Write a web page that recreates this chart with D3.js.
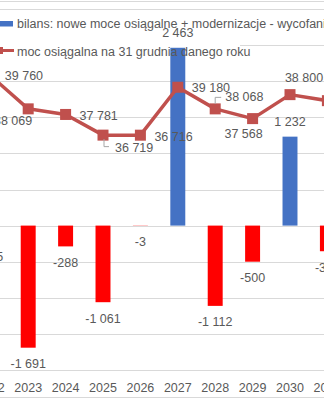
<!DOCTYPE html>
<html lang="pl">
<head>
<meta charset="utf-8">
<title>Bilans mocy</title>
<script src="https://d3js.org/d3.v7.min.js"></script>
<style>
  html, body { margin: 0; padding: 0; background: #fff; }
  svg { display: block; font-family: "Liberation Sans", Arial, sans-serif; }
</style>
</head>
<body>
<div id="chart"></div>
<script>
// data
const years = ["2022", "2023", "2024", "2025", "2026", "2027", "2028", "2029", "2030", "2031"];
const bilans = [-205, -1691, -288, -1061, -3, 2463, -1112, -500, 1232, -355];
const moc = [39760, 38069, 37781, 36719, 36716, 39180, 38068, 37568, 38800, 38490];
const legendLabels = [
  "bilans: nowe moce osiągalne + modernizacje - wycofania",
  "moc osiągalna na 31 grudnia danego roku"
];

// hand-placed line labels (like moved Excel labels): dx, dy, anchor
const lineLabelPlace = [
  [14, 0, "start"], [4, 12, "end"], [14, 1, "start"], [12, 12, "start"], [14, 1, "start"],
  [14, 0, "start"], [10, -12, "start"], [-9, 15, "middle"], [14, -17, "middle"], [14, 0, "start"]
];

const width = 324, height = 400;
const textColor = "#595959", gridColor = "#d9d9d9";
const blue = "#4472C4", red = "#FF0000", lineColor = "#C0504D";

const fmt = d3.formatLocale({decimal: ",", thousands: "\u00a0", grouping: [3], currency: ["", ""], minus: "-"}).format(",d");

const svg = d3.select("#chart").append("svg")
  .attr("width", width).attr("height", height);

const x = d3.scaleBand().domain(years)
  .range([-27.9, 346.1]).paddingInner(0.6).paddingOuter(0.3);
const yBar = d3.scaleLinear().domain([-2000, 3000]).range([370, 9]);
const yLine = d3.scaleLinear().domain([24650, 43200]).range([370, 9]);
const cx = d => x(d) + x.bandwidth() / 2;

// frame lines
svg.append("line").attr("x1", 0).attr("x2", width).attr("y1", 1.5).attr("y2", 1.5)
  .attr("stroke", gridColor);
svg.append("line").attr("x1", 0).attr("x2", width).attr("y1", 397.5).attr("y2", 397.5)
  .attr("stroke", gridColor);

// gridlines
svg.append("g").selectAll("line")
  .data(d3.range(-2000, 3001, 500))
  .join("line")
  .attr("x1", 0).attr("x2", width)
  .attr("y1", d => Math.round(yBar(d)) + 0.5).attr("y2", d => Math.round(yBar(d)) + 0.5)
  .attr("stroke", gridColor);

// legend background hides the gridline under it, bars still go over
svg.append("rect").attr("x", 0).attr("y", 12).attr("width", 240).attr("height", 50).attr("fill", "#fff");

// bars
svg.append("g").selectAll("rect")
  .data(bilans)
  .join("rect")
  .attr("x", (d, i) => x(years[i]))
  .attr("width", x.bandwidth())
  .attr("y", d => yBar(Math.max(0, d)))
  .attr("height", d => Math.abs(yBar(d) - yBar(0)))
  .attr("fill", d => d >= 0 ? blue : red);

// line + markers
const line = d3.line().x((d, i) => cx(years[i])).y(d => yLine(d));
svg.append("path").datum(moc)
  .attr("d", line).attr("fill", "none")
  .attr("stroke", lineColor).attr("stroke-width", 3.5).attr("stroke-linejoin", "round");
svg.append("g").selectAll("rect")
  .data(moc)
  .join("rect")
  .attr("x", (d, i) => cx(years[i]) - 5.5)
  .attr("y", d => yLine(d) - 5.5)
  .attr("width", 11).attr("height", 11)
  .attr("fill", lineColor);

// leader lines for moved labels
const leader = (i, pts) => svg.append("path")
  .attr("d", d3.line()(pts.map(([dx, dy]) => [cx(years[i]) + dx, yLine(moc[i]) + dy])))
  .attr("fill", "none").attr("stroke", "#a6a6a6").attr("stroke-width", 1);
leader(3, [[1, 4], [1, 11.5], [6, 11.5]]);
leader(6, [[0, -5], [0, -11.5], [6, -11.5]]);

// legend symbols and texts
const legend = svg.append("g");
legend.append("rect").attr("x", -2).attr("y", 21).attr("width", 15).attr("height", 5.5).attr("fill", blue);
legend.append("line").attr("x1", -12).attr("x2", 14).attr("y1", 50.5).attr("y2", 50.5)
  .attr("stroke", lineColor).attr("stroke-width", 3);
legend.append("rect").attr("x", -4).attr("y", 47).attr("width", 7).attr("height", 7).attr("fill", lineColor);
legend.selectAll("text").data(legendLabels).join("text")
  .attr("x", 17).attr("y", (d, i) => 24 + i * 27.5)
  .attr("dy", "0.35em")
  .attr("font-size", 12.5).attr("fill", textColor)
  .text(d => d);

// bar labels
svg.append("g").selectAll("text")
  .data(bilans)
  .join("text")
  .attr("x", (d, i) => cx(years[i]))
  .attr("y", d => d >= 0 ? yBar(d) - 15.5 : yBar(d) + 16)
  .attr("dy", "0.35em")
  .attr("text-anchor", "middle")
  .attr("font-size", 12.5).attr("fill", textColor)
  .text(d => fmt(d));

// line labels
svg.append("g").selectAll("text")
  .data(moc)
  .join("text")
  .attr("x", (d, i) => cx(years[i]) + lineLabelPlace[i][0])
  .attr("y", (d, i) => yLine(d) + lineLabelPlace[i][1])
  .attr("dy", "0.35em")
  .attr("text-anchor", (d, i) => lineLabelPlace[i][2])
  .attr("font-size", 12.5).attr("fill", textColor)
  .text(d => fmt(d));

// x axis labels
svg.append("g").selectAll("text")
  .data(years)
  .join("text")
  .attr("x", d => cx(d))
  .attr("y", 388)
  .attr("dy", "0.35em")
  .attr("text-anchor", "middle")
  .attr("font-size", 12.5).attr("fill", textColor)
  .text(d => d);
</script>
</body>
</html>
